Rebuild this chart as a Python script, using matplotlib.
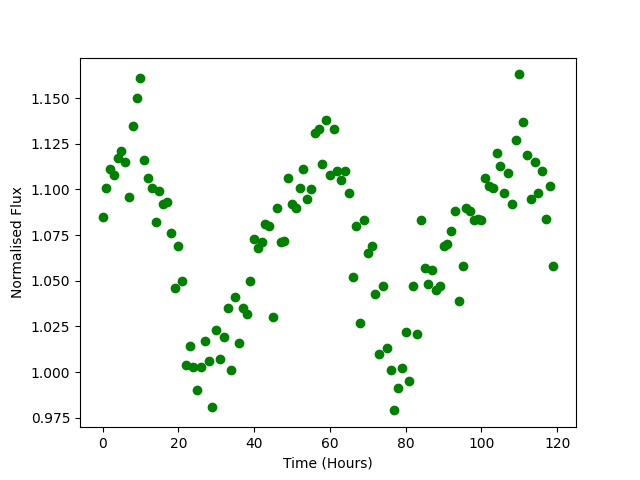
import matplotlib
matplotlib.use("Agg")
import matplotlib.pyplot as plt

# hourly samples, t = 0..119
hours = list(range(120))
flux = [
    1.085, 1.101, 1.111, 1.108, 1.117, 1.121, 1.115, 1.096, 1.135, 1.150,
    1.161, 1.116, 1.106, 1.101, 1.082, 1.099, 1.092, 1.093, 1.076, 1.046,
    1.069, 1.050, 1.004, 1.014, 1.003, 0.990, 1.003, 1.017, 1.006, 0.981,
    1.023, 1.007, 1.019, 1.035, 1.001, 1.041, 1.016, 1.035, 1.032, 1.050,
    1.073, 1.068, 1.071, 1.081, 1.080, 1.030, 1.090, 1.071, 1.072, 1.106,
    1.092, 1.090, 1.101, 1.111, 1.095, 1.100, 1.131, 1.133, 1.114, 1.138,
    1.108, 1.133, 1.110, 1.105, 1.110, 1.098, 1.052, 1.080, 1.027, 1.083,
    1.065, 1.069, 1.043, 1.010, 1.047, 1.013, 1.001, 0.979, 0.991, 1.002,
    1.022, 0.995, 1.047, 1.021, 1.083, 1.057, 1.048, 1.056, 1.045, 1.047,
    1.069, 1.070, 1.077, 1.088, 1.039, 1.058, 1.090, 1.088, 1.083, 1.084,
    1.083, 1.106, 1.102, 1.101, 1.120, 1.113, 1.098, 1.109, 1.092, 1.127,
    1.163, 1.137, 1.119, 1.095, 1.115, 1.098, 1.110, 1.084, 1.102, 1.058,
]

plt.figure(figsize=(6.4, 4.8), dpi=100)
plt.plot(hours, flux, "go")
plt.xlabel("Time (Hours)")
plt.ylabel("Normalised Flux")
plt.savefig("out.png")
